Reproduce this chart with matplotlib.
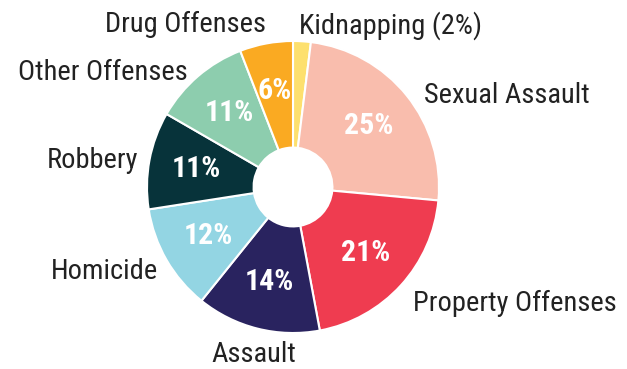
import matplotlib
matplotlib.use("Agg")
import matplotlib.pyplot as plt
from matplotlib import font_manager as fm
from matplotlib.transforms import offset_copy

categories = ["Kidnapping", "Sexual Assault", "Property Offenses", "Assault",
              "Homicide", "Robbery", "Other Offenses", "Drug Offenses"]
values = [2, 25, 21, 14, 12, 11, 11, 6]
outer_labels = ["Kidnapping (2%)", "Sexual Assault", "Property Offenses", "Assault",
                "Homicide", "Robbery", "Other Offenses", "Drug Offenses"]
inner_labels = ["", "25%", "21%", "14%", "12%", "11%", "11%", "6%"]
colors = ["#FDE06E", "#F9BDAD", "#EF3C50", "#29235F",
          "#93D5E3", "#07333A", "#8DCDAE", "#FAAA22"]
# small label nudges in pixels (x right, y down)
label_nudge = [(-4, 0), (5, 10), (0, 7), (0, -3), (5, 3), (5, 3), (0, 9), (3, -3)]

available = {f.name for f in fm.fontManager.ttflist}
family = "DejaVu Sans"
for cand in ["Roboto Condensed", "Liberation Sans Narrow", "Roboto", "Liberation Sans"]:
    if cand in available:
        family = cand
        break

fig = plt.figure(figsize=(6.27, 3.69), dpi=100)
ax = fig.add_axes([0, 0, 1, 1])
wedges, texts, autotexts = ax.pie(
    values, colors=colors, startangle=90, counterclock=False,
    labels=outer_labels, labeldistance=1.11,
    autopct=lambda p: "", pctdistance=0.67,
    wedgeprops=dict(width=0.73, edgecolor="white", linewidth=1.5),
    textprops=dict(fontsize=20.5, color="#222222", family=family))
for t, (dx, dy) in zip(texts, label_nudge):
    if t.get_text() == "Assault":
        t.set_ha("center")
        t.set_va("top")
    t.set_transform(offset_copy(t.get_transform(), fig=fig, x=dx, y=-dy, units="dots"))
for at, lab in zip(autotexts, inner_labels):
    at.set_text(lab)
    at.set_color("white")
    at.set_fontweight("bold")
    at.set_fontsize(21.5)

ax.set_aspect("auto")
R = 146.0
ax.set_xlim(-293 / R, (627 - 293) / R)
ax.set_ylim(-182 / R, 187 / R)
ax.axis("off")
fig.savefig("out.png", dpi=100)
